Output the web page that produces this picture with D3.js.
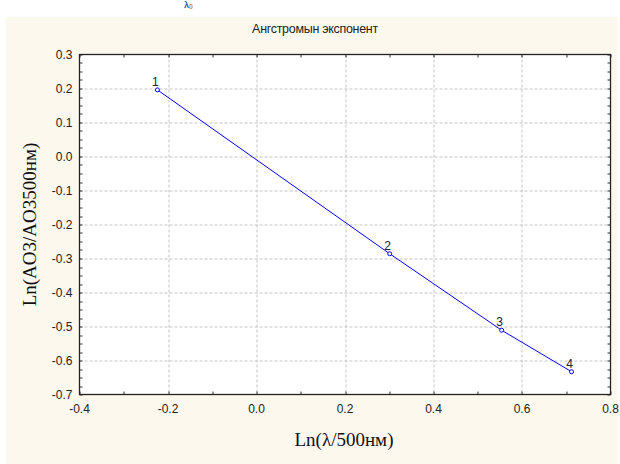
<!DOCTYPE html>
<html>
<head>
<meta charset="utf-8">
<script src="https://cdn.jsdelivr.net/npm/d3@7"></script>
<style>
  body { margin: 0; background: #fff; }
  svg { display: block; }
</style>
</head>
<body>
<div id="chart-area"></div>
<script>
// data
var pointLabels = ["1", "2", "3", "4"];
var lnLambda = [-0.224, 0.301, 0.554, 0.712];
var lnAOD = [0.196, -0.286, -0.511, -0.633];
var xTicks = [-0.4, -0.2, 0.0, 0.2, 0.4, 0.6, 0.8];
var yTicks = [0.3, 0.2, 0.1, 0.0, -0.1, -0.2, -0.3, -0.4, -0.5, -0.6, -0.7];

var W = 620, H = 464;
var margin = { left: 79.5, right: 9.5, top: 54.5, bottom: 69.5 };
var width = W - margin.left - margin.right;
var height = H - margin.top - margin.bottom;

var fmt = d => (Math.abs(d) < 1e-9 ? 0 : d).toFixed(1);

var svg = d3.select("#chart-area").append("svg")
	.attr("width", W)
	.attr("height", H);

// cream panel
svg.append("rect")
	.attr("x", 6).attr("y", 17)
	.attr("width", 611).attr("height", 447)
	.attr("fill", "#fdf8ee");

// small glyph at the very top
svg.append("text")
	.attr("x", 184).attr("y", 8)
	.attr("font-family", "Arial, sans-serif")
	.attr("font-weight", "bold")
	.attr("font-size", "9px")
	.attr("fill", "#2b5fa8")
	.text("λ")
	.append("tspan").attr("font-size", "7px").attr("dy", 1).attr("fill", "#d08a2a").text("0");

var g = svg.append("g")
	.attr("transform", "translate(" + margin.left + "," + margin.top + ")");

var x = d3.scaleLinear().domain([-0.4, 0.8]).range([0, width]);
var y = d3.scaleLinear().domain([-0.7, 0.3]).range([height, 0]);

g.append("rect")
	.attr("width", width).attr("height", height)
	.attr("fill", "#fff");

// grid
g.append("g").selectAll("line").data(xTicks.slice(1, -1)).enter().append("line")
	.attr("x1", d => Math.round(x(d)) + 0.5).attr("x2", d => Math.round(x(d)) + 0.5)
	.attr("y1", 0).attr("y2", height)
	.attr("stroke", "#c4c4c4").attr("stroke-dasharray", "3,2");
g.append("g").selectAll("line").data(yTicks.slice(1, -1)).enter().append("line")
	.attr("y1", d => Math.round(y(d)) + 0.5).attr("y2", d => Math.round(y(d)) + 0.5)
	.attr("x1", 0).attr("x2", width)
	.attr("stroke", "#c4c4c4").attr("stroke-dasharray", "3,2");

// minor ticks, inward, all four sides
var xMinor = d3.range(-0.4, 0.8001, 0.1);
var yMinor = d3.range(-0.7, 0.3001, 0.025);
var ticks = g.append("g").attr("stroke", "#333");
ticks.selectAll(".tb").data(xMinor).enter().append("line")
	.attr("x1", d => Math.round(x(d)) + 0.5).attr("x2", d => Math.round(x(d)) + 0.5)
	.attr("y1", height).attr("y2", height - 3);
ticks.selectAll(".tt").data(xMinor).enter().append("line")
	.attr("x1", d => Math.round(x(d)) + 0.5).attr("x2", d => Math.round(x(d)) + 0.5)
	.attr("y1", 0).attr("y2", 3);
ticks.selectAll(".tl").data(yMinor).enter().append("line")
	.attr("y1", d => Math.round(y(d)) + 0.5).attr("y2", d => Math.round(y(d)) + 0.5)
	.attr("x1", 0).attr("x2", 3);
ticks.selectAll(".tr").data(yMinor).enter().append("line")
	.attr("y1", d => Math.round(y(d)) + 0.5).attr("y2", d => Math.round(y(d)) + 0.5)
	.attr("x1", width).attr("x2", width - 3);

// frame
g.append("rect")
	.attr("width", width).attr("height", height)
	.attr("fill", "none").attr("stroke", "#222").attr("stroke-width", 1.3);

// tick labels
g.append("g").selectAll("text").data(yTicks).enter().append("text")
	.attr("x", -7).attr("y", d => y(d) + 4)
	.attr("text-anchor", "end")
	.attr("font-family", "Arial, 'Liberation Sans', sans-serif")
	.attr("font-size", "12px").attr("fill", "#222")
	.text(fmt);
g.append("g").selectAll("text").data(xTicks).enter().append("text")
	.attr("x", d => x(d)).attr("y", height + 18)
	.attr("text-anchor", "middle")
	.attr("font-family", "Arial, 'Liberation Sans', sans-serif")
	.attr("font-size", "12px").attr("fill", "#222")
	.text(fmt);

// line + points
var pts = lnLambda.map((v, i) => ({ x: v, y: lnAOD[i], label: pointLabels[i] }));
var line = d3.line().x(d => x(d.x)).y(d => y(d.y));
g.append("path").datum(pts)
	.attr("d", line)
	.attr("fill", "none").attr("stroke", "#0000ff").attr("stroke-width", 1);
g.selectAll(".pt").data(pts).enter().append("circle")
	.attr("cx", d => x(d.x)).attr("cy", d => y(d.y)).attr("r", 2)
	.attr("fill", "#fff").attr("stroke", "#0000ff").attr("stroke-width", 1);
g.selectAll(".lbl").data(pts).enter().append("text")
	.attr("x", d => x(d.x) - 2).attr("y", d => y(d.y) - 4)
	.attr("text-anchor", "middle")
	.attr("font-family", "Arial, 'Liberation Sans', sans-serif")
	.attr("font-size", "12px").attr("fill", "#222")
	.text(d => d.label);

// titles
svg.append("text")
	.attr("x", 315).attr("y", 33)
	.attr("text-anchor", "middle")
	.attr("font-family", "Arial, 'Liberation Sans', sans-serif")
	.attr("font-size", "12.5px").attr("letter-spacing", "-0.3px").attr("fill", "#222")
	.text("Ангстромын экспонент");

svg.append("text")
	.attr("x", 344).attr("y", 446)
	.attr("text-anchor", "middle")
	.attr("font-family", "'Liberation Serif', 'Times New Roman', serif")
	.attr("font-size", "19px").attr("fill", "#111")
	.text("Ln(λ/500нм)");

svg.append("text")
	.attr("transform", "translate(36," + (margin.top + height / 2) + ") rotate(-90)")
	.attr("text-anchor", "middle")
	.attr("font-family", "'Liberation Serif', 'Times New Roman', serif")
	.attr("font-size", "19px").attr("fill", "#111")
	.text("Ln(AO3/AO3500нм)");
</script>
</body>
</html>
